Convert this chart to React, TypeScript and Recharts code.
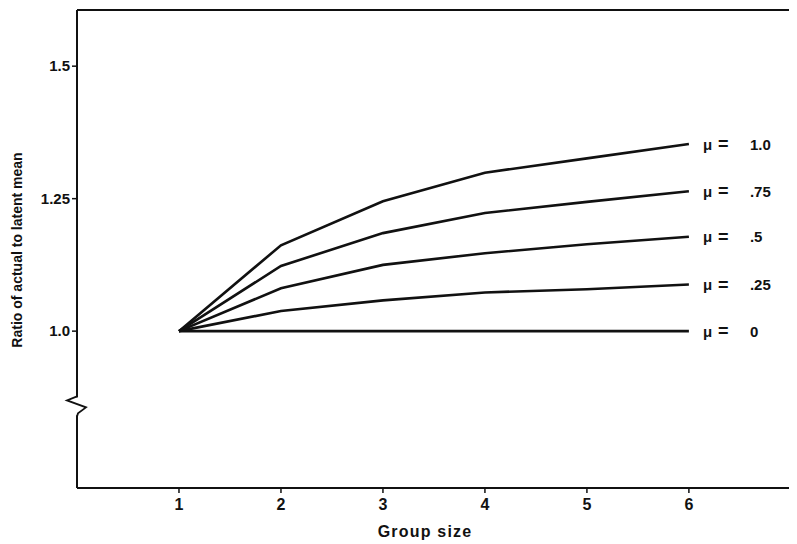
import React from "react";
import {
  LineChart,
  Line,
  XAxis,
  YAxis,
  ReferenceLine,
  ReferenceDot,
  LabelList,
} from "recharts";

// ---- data ----
const groupSizes = [1, 2, 3, 4, 5, 6];
const mu100 = [1.0, 1.162, 1.245, 1.299, 1.326, 1.353];
const mu075 = [1.0, 1.123, 1.185, 1.223, 1.244, 1.264];
const mu050 = [1.0, 1.081, 1.125, 1.147, 1.164, 1.178];
const mu025 = [1.0, 1.038, 1.058, 1.073, 1.079, 1.088];
const mu000 = [1.0, 1.0, 1.0, 1.0, 1.0, 1.0];
const muLabels = ["1.0", ".75", ".5", ".25", "0"];
const seriesKeys = ["m100", "m075", "m050", "m025", "m000"];
const seriesValues = [mu100, mu075, mu050, mu025, mu000];
const xTicks = [1, 2, 3, 4, 5, 6];
const yTicks = [1.0, 1.25, 1.5];
const yTickLabels = ["1.0", "1.25", "1.5"];
const xDomain: [number, number] = [0, 7.06];
const yDomain: [number, number] = [0.704, 1.606];
const axisBreakValue = 0.858;
const xTitle = "Group size";
const yTitle = "Ratio of actual to latent mean";

const lastIndex = groupSizes.length - 1;
const tableData = groupSizes.map((g, i) => {
  const row: Record<string, number | string | undefined> = { g };
  seriesKeys.forEach((k, s) => {
    row[k] = seriesValues[s][i];
    row[k + "_lbl"] = i === lastIndex ? muLabels[s] : undefined;
  });
  return row;
});

const FONT = "'Liberation Sans', Arial, Helvetica, sans-serif";
const INK = "#111";

const CHART_W = 789;
const CHART_H = 536;
const MARGIN = { top: 2, right: 0, bottom: 0, left: 0 };
const X_AXIS_H = 56;
const Y_AXIS_W = 69;

const makeEndLabel = () => (props: any) => {
  const { value } = props;
  if (value === undefined || value === null || value === "") return null;
  const x = props.x ?? props.viewBox?.x;
  const y = props.y ?? props.viewBox?.y;
  if (x == null || y == null) return null;
  return (
    <g fontFamily={FONT} fill={INK} fontSize={15} fontWeight="bold">
      <text x={x + 14} y={y} dominantBaseline="central">
        μ
      </text>
      <text x={x + 29} y={y} dominantBaseline="central" fontSize={18}>
        =
      </text>
      <text x={x + 61} y={y} dominantBaseline="central">
        {value}
      </text>
    </g>
  );
};

const AxisBreak = (props: any) => {
  const { cx, cy } = props;
  if (cx == null || cy == null) return null;
  return (
    <g>
      <rect x={cx - 3} y={cy - 9} width={6} height={18} fill="#fff" />
      <path
        d={`M ${cx} ${cy - 10} L ${cx - 10} ${cy - 6} L ${cx + 9} ${cy + 1} L ${cx + 1} ${cy + 7} L ${cx} ${cy + 10}`}
        fill="none"
        stroke={INK}
        strokeWidth={1.8}
        strokeLinejoin="miter"
      />
    </g>
  );
};

const YTitle = () => {
  const plotH = CHART_H - MARGIN.top - MARGIN.bottom - X_AXIS_H;
  const cx = 9;
  const cy = MARGIN.top + plotH / 2 + 1;
  return (
    <text
      transform={`translate(${cx}, ${cy}) rotate(-90)`}
      textAnchor="middle"
      dominantBaseline="central"
      fontFamily={FONT}
      fontSize={14}
      fontWeight="bold"
      fill={INK}
    >
      {yTitle}
    </text>
  );
};

const XTitle = () => {
  const plotW = CHART_W - MARGIN.left - MARGIN.right - Y_AXIS_W;
  const cx = Y_AXIS_W + plotW / 2 - 12;
  const y = CHART_H - 7;
  return (
    <text
      x={cx}
      y={y}
      textAnchor="middle"
      fontFamily={FONT}
      fontSize={16}
      fontWeight="bold"
      letterSpacing={1.2}
      fill={INK}
    >
      {xTitle}
    </text>
  );
};

export default function App() {
  return (
    <div style={{ width: CHART_W, height: CHART_H, background: "#fff" }}>
      <LineChart
        width={CHART_W}
        height={CHART_H}
        data={tableData}
        margin={MARGIN}
        style={{ fontFamily: FONT }}
      >
        <XAxis
          dataKey="g"
          type="number"
          domain={xDomain}
          ticks={xTicks}
          allowDataOverflow
          height={X_AXIS_H}
          tickSize={5}
          tickMargin={6}
          axisLine={{ stroke: INK, strokeWidth: 2 }}
          tickLine={{ stroke: INK, strokeWidth: 1.5 }}
          tick={{ fill: INK, fontSize: 16, fontFamily: FONT, fontWeight: "bold" }}
          label={<XTitle />}
        />
        <YAxis
          type="number"
          domain={yDomain}
          ticks={yTicks}
          allowDataOverflow
          width={Y_AXIS_W}
          tickSize={5}
          axisLine={{ stroke: INK, strokeWidth: 2 }}
          tickLine={{ stroke: INK, strokeWidth: 1.5 }}
          tick={{ fill: INK, fontSize: 15, fontFamily: FONT, fontWeight: "bold" }}
          tickFormatter={(v: number) => yTickLabels[yTicks.indexOf(v)] ?? String(v)}
          label={<YTitle />}
        />
        <ReferenceLine
          y={yDomain[1]}
          stroke={INK}
          strokeWidth={2}
          ifOverflow="visible"
        />
        {seriesKeys.map((k) => (
          <Line
            key={k}
            dataKey={k}
            type="linear"
            stroke={INK}
            strokeWidth={2.6}
            dot={false}
            activeDot={false}
            isAnimationActive={false}
          >
            <LabelList dataKey={k + "_lbl"} content={makeEndLabel()} />
          </Line>
        ))}
        <ReferenceDot
          x={0}
          y={axisBreakValue}
          ifOverflow="visible"
          shape={<AxisBreak />}
          r={1}
        />
      </LineChart>
    </div>
  );
}
